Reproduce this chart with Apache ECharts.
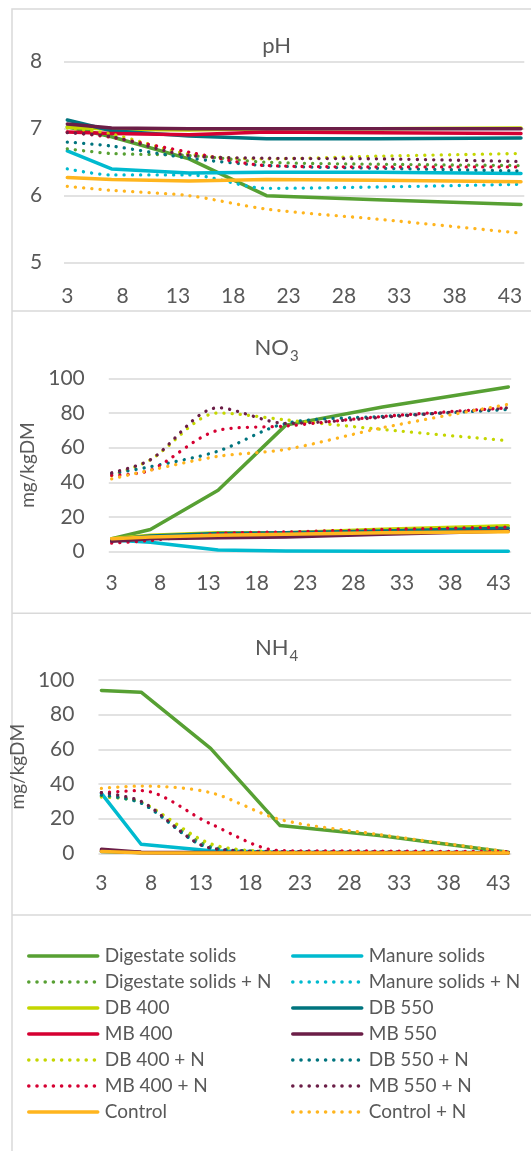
<!DOCTYPE html>
<html><head><meta charset="utf-8">
<script src="https://cdn.jsdelivr.net/npm/echarts@6/dist/echarts.min.js"></script>
<style>html,body{margin:0;padding:0;background:#fff}#c{width:531px;height:1151px}</style>
</head><body><div id="c"></div>
<script>
// ---- data ----
const days = [3, 7, 14, 21, 31, 44];
const xTickLabels = [3, 8, 13, 18, 23, 28, 33, 38, 43];
const seriesNames = ['Digestate solids', 'Manure solids', 'Digestate solids + N', 'Manure solids + N',
  'DB 400', 'DB 550', 'MB 400', 'MB 550', 'DB 400 + N', 'DB 550 + N', 'MB 400 + N', 'MB 550 + N',
  'Control', 'Control + N'];
const seriesColors = ['#57A033', '#00BACF', '#57A033', '#00BACF', '#C4D600', '#00747E', '#D50032',
  '#6B1E47', '#C4D600', '#00747E', '#D50032', '#6B1E47', '#FFB51E', '#FFB51E'];
const seriesDotted = [false, false, true, true, false, false, false, false, true, true, true, true, false, true];

// pH
const pH_Digestate  = [7.03, 6.88, 6.55, 6.00, 5.94, 5.87];
const pH_Manure     = [6.67, 6.40, 6.34, 6.35, 6.35, 6.33];
const pH_DigestateN = [6.70, 6.63, 6.60, 6.50, 6.47, 6.45];
const pH_ManureN    = [6.40, 6.31, 6.31, 6.11, 6.13, 6.17];
const pH_DB400      = [7.02, 6.99, 6.98, 7.00, 7.00, 7.01];
const pH_DB550      = [7.13, 6.97, 6.89, 6.85, 6.85, 6.86];
const pH_MB400      = [6.95, 6.93, 6.91, 6.95, 6.94, 6.93];
const pH_MB550      = [7.07, 7.01, 7.00, 7.00, 7.00, 7.00];
const pH_DB400N     = [7.01, 6.92, 6.62, 6.55, 6.59, 6.63];
const pH_DB550N     = [6.80, 6.74, 6.56, 6.45, 6.41, 6.37];
const pH_MB400N     = [6.95, 6.87, 6.65, 6.45, 6.43, 6.43];
const pH_MB550N     = [6.94, 6.88, 6.60, 6.56, 6.55, 6.51];
const pH_Control    = [6.27, 6.24, 6.22, 6.24, 6.23, 6.21];
const pH_ControlN   = [6.14, 6.08, 6.00, 5.80, 5.65, 5.44];

// NO3 (mg/kgDM)
const no3_Digestate  = [7.5, 12.8, 35.5, 73, 83.5, 95];
const no3_Manure     = [6.8, 5.5, 1.0, 0.4, 0.3, 0.3];
const no3_DigestateN = [7, 8.5, 10, 10.5, 11.5, 13];
const no3_ManureN    = [7, 8, 9.5, 10, 11, 12];
const no3_DB400      = [7.5, 9.5, 11, 11, 13, 15];
const no3_DB550      = [7, 9, 10.5, 11, 12, 13.5];
const no3_MB400      = [5, 6.5, 10.5, 11.4, 12.8, 14.2];
const no3_MB550      = [6, 7.5, 8, 8.5, 10, 12];
const no3_DB400N     = [44, 53, 80, 76, 70.5, 64];
const no3_DB550N     = [45, 49, 58, 74, 78, 82];
const no3_MB400N     = [44, 47, 70, 72.5, 78, 83];
const no3_MB550N     = [45.5, 53, 83, 74, 77.5, 83];
const no3_Control    = [7.5, 8.5, 9.5, 10, 11, 11.5];
const no3_ControlN   = [42, 47, 55, 59, 71.5, 85];

// NH4 (mg/kgDM)
const nh4_Digestate  = [94, 93, 60.5, 16, 10.3, 0.6];
const nh4_Manure     = [34.6, 5.2, 1.5, 0.6, 0.5, 0.4];
const nh4_DigestateN = [33, 29.5, 4, 1, 0.7, 0.5];
const nh4_ManureN    = [33, 29, 3, 0.8, 0.6, 0.4];
const nh4_DB400      = [1.2, 0.5, 0.3, 0.3, 0.3, 0.3];
const nh4_DB550      = [1.0, 0.4, 0.3, 0.3, 0.3, 0.3];
const nh4_MB400      = [1.5, 0.5, 0.3, 0.3, 0.3, 0.3];
const nh4_MB550      = [2.3, 0.6, 0.4, 0.3, 0.3, 0.3];
const nh4_DB400N     = [32.5, 29.5, 5.5, 1, 0.8, 0.5];
const nh4_DB550N     = [33.5, 29, 3, 1, 0.7, 0.5];
const nh4_MB400N     = [35, 36.2, 17, 1.5, 1.3, 1.0];
const nh4_MB550N     = [35, 30, 3, 1, 0.8, 0.5];
const nh4_Control    = [1.0, 0.3, 0.2, 0.2, 0.2, 0.2];
const nh4_ControlN   = [37.5, 38.8, 35, 19.5, 10.8, 0.8];

const pHSeries  = [pH_Digestate, pH_Manure, pH_DigestateN, pH_ManureN, pH_DB400, pH_DB550, pH_MB400, pH_MB550, pH_DB400N, pH_DB550N, pH_MB400N, pH_MB550N, pH_Control, pH_ControlN];
const no3Series = [no3_Digestate, no3_Manure, no3_DigestateN, no3_ManureN, no3_DB400, no3_DB550, no3_MB400, no3_MB550, no3_DB400N, no3_DB550N, no3_MB400N, no3_MB550N, no3_Control, no3_ControlN];
const nh4Series = [nh4_Digestate, nh4_Manure, nh4_DigestateN, nh4_ManureN, nh4_DB400, nh4_DB550, nh4_MB400, nh4_MB550, nh4_DB400N, nh4_DB550N, nh4_MB400N, nh4_MB550N, nh4_Control, nh4_ControlN];
// in the NO3 panel the MB 400 line is drawn dotted in the original
const no3DottedOverride = {6: true};

// ---- styling ----
const FONT = 'Lato, "Open Sans", sans-serif';
const TXT = '#595959';
const GRIDC = '#D9D9D9';
const DOT = [0.1, 8.1];

function makeSeries(panelIdx, arrays, overrides) {
  return arrays.map((arr, i) => {
    const dotted = (overrides && overrides[i] !== undefined) ? overrides[i] : seriesDotted[i];
    return {
      type: 'line', name: seriesNames[i], xAxisIndex: panelIdx, yAxisIndex: panelIdx,
      data: days.map((d, j) => [d, arr[j]]),
      symbol: 'none', showSymbol: false, smooth: dotted ? 0.3 : false,
      silent: true, animation: false,
      itemStyle: {color: seriesColors[i]},
      lineStyle: {color: seriesColors[i], width: dotted ? 3.3 : 3.5, type: dotted ? DOT : 'solid', cap: 'round', join: 'round'},
      emphasis: {disabled: true}
    };
  });
}

const labelStyle = {fontFamily: FONT, fontSize: 21, color: TXT};

function xAxis(idx, margin) {
  return {type: 'value', gridIndex: idx, min: 2.7, max: 44.3,
    axisLine: {show: false}, axisTick: {show: false}, splitLine: {show: false},
    axisLabel: Object.assign({customValues: xTickLabels, margin: margin}, labelStyle)};
}
function yAxis(idx, min, max, interval, margin, name, nameGap) {
  const a = {type: 'value', gridIndex: idx, min: min, max: max, interval: interval,
    axisLine: {show: false}, axisTick: {show: false},
    splitLine: {lineStyle: {color: GRIDC, width: 1.5}},
    axisLabel: Object.assign({margin: margin}, labelStyle)};
  if (name) {
    a.name = name; a.nameLocation = 'middle'; a.nameGap = nameGap;
    a.nameTextStyle = {fontFamily: FONT, fontSize: 19, color: TXT};
  }
  return a;
}

const rich = {
  m: {fontFamily: FONT, fontSize: 22, color: TXT, lineHeight: 22, verticalAlign: 'top'},
  s: {fontFamily: FONT, fontSize: 15, color: TXT, lineHeight: 15, verticalAlign: 'bottom', padding: [0, 0, 0, 1]},
  h: {fontFamily: FONT, fontSize: 1, lineHeight: 27, verticalAlign: 'top'}
};
function title(text, top) {
  return {text: text, left: 276.7, top: top, textAlign: 'center', textVerticalAlign: 'top', padding: 0,
    textStyle: {fontFamily: FONT, fontSize: 22, color: TXT, fontWeight: 'normal', rich: rich}};
}

const leftNames = seriesNames.filter((n, i) => i % 2 === 0);
const rightNames = seriesNames.filter((n, i) => i % 2 === 1);
function legend(left, data) {
  return {left: left, top: 946, orient: 'vertical', itemWidth: 69, itemHeight: 14, itemGap: 6,
    padding: 0, selectedMode: false, data: data,
    itemStyle: {opacity: 0},
    lineStyle: {width: 3.5, cap: 'round'},
    textStyle: {fontFamily: FONT, fontSize: 19, color: TXT, lineHeight: 20, padding: [0, 0, 0, 2]}};
}

const borderStyle = {fill: 'none', stroke: GRIDC, lineWidth: 1.5};
const option = {
  backgroundColor: '#fff',
  animation: false,
  title: [title('{m|pH}', 34.5), title('{m|NO}{s|3}{h| }', 336.5), title('{m|NH}{s|4}{h| }', 637)],
  grid: [
    {left: 64, right: 6.7, top: 61.7, height: 201},
    {left: 108.8, right: 19.8, top: 378.3, height: 173.4},
    {left: 97, right: 19.7, top: 680, height: 173.3}
  ],
  xAxis: [xAxis(0, 23), xAxis(1, 21), xAxis(2, 19)],
  yAxis: [
    yAxis(0, 5, 8, 1, 21.7),
    yAxis(1, 0, 100, 20, 24, 'mg/kgDM', 66),
    yAxis(2, 0, 100, 20, 24, 'mg/kgDM', 55)
  ],
  legend: [legend(27, leftNames), legend(291, rightNames)],
  graphic: [
    {type: 'rect', silent: true, shape: {x: 12, y: 9, width: 540, height: 1160}, style: borderStyle},
    {type: 'line', silent: true, shape: {x1: 12, y1: 311, x2: 540, y2: 311}, style: borderStyle},
    {type: 'line', silent: true, shape: {x1: 12, y1: 613.3, x2: 540, y2: 613.3}, style: borderStyle},
    {type: 'line', silent: true, shape: {x1: 12, y1: 915, x2: 540, y2: 915}, style: borderStyle}
  ],
  series: [].concat(makeSeries(0, pHSeries), makeSeries(1, no3Series, no3DottedOverride), makeSeries(2, nh4Series))
};
const chart = echarts.init(document.getElementById('c'), null, {renderer: 'canvas'});
chart.setOption(option);
</script></body></html>
